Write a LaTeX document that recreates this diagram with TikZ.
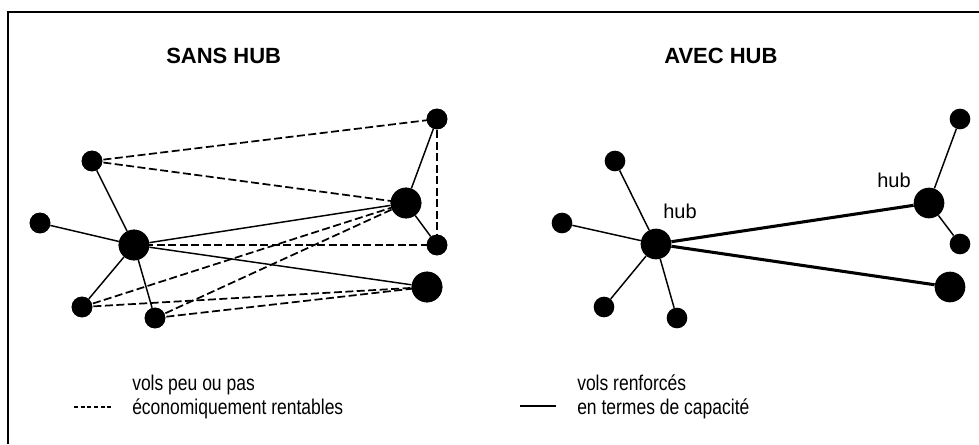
\documentclass[tikz,border=0pt]{standalone}
\usepackage{fontspec}
\setmainfont{Liberation Sans}
\newfontfamily\narrowfont[FakeStretch=0.82]{Liberation Sans}
\begin{document}
\begin{tikzpicture}[x=0.75pt,y=-0.75pt,
  sm/.style={circle,fill=black,inner sep=0pt,minimum size=15.5pt},
  bg/.style={circle,fill=black,inner sep=0pt,minimum size=23pt},
  thin/.style={line width=1.1pt},
  thick/.style={line width=2.3pt},
  dsh/.style={line width=1.3pt,dash pattern=on 6pt off 2.6pt},
  ttl/.style={font=\fontsize{16.5pt}{19pt}\selectfont\bfseries,anchor=base west,inner sep=0pt},
  lbl/.style={font=\fontsize{15pt}{18pt}\selectfont,anchor=base west,inner sep=0pt},
  leg/.style={font=\narrowfont\fontsize{16pt}{18pt}\selectfont,anchor=base west,inner sep=0pt,align=left}]
\useasboundingbox (0,0) rectangle (979,444);
\draw[line width=1.6pt] (8,444) -- (8,12) -- (979,12);

% titles
\node[ttl] (t1) at (166,63) {SANS HUB};
\node[ttl] (t2) at (664,63) {AVEC HUB};

% left panel
\node[sm] (A) at (92,161) {};
\node[sm] (B) at (40,223) {};
\node[bg] (C) at (134,245) {};
\node[sm] (D) at (82,307) {};
\node[sm] (E) at (155,318) {};
\node[sm] (F) at (437,119) {};
\node[bg] (G) at (406,203) {};
\node[sm] (H) at (437,245) {};
\node[bg] (I) at (427,287) {};

\foreach \u/\v in {A/C,B/C,C/D,C/E,C/G,C/I,F/G,G/H}
  \draw[thin] (\u) -- (\v);
\foreach \u/\v in {A/F,A/G,F/H,C/H,D/G,E/G,D/I,E/I}
  \draw[dsh] (\u.center) -- (\v.center);

% redraw nodes on top
\foreach \n in {A,B,D,E,F,H}
  \fill (\n.center) circle (7.75pt);
\foreach \n in {C,G,I}
  \fill (\n.center) circle (11.5pt);

% right panel
\node[bg] (h1) at (656,244) {};
\node[sm] (a) at (615,161) {};
\node[sm] (b) at (562,223) {};
\node[sm] (d) at (604,307) {};
\node[sm] (e) at (677,318) {};
\node[bg] (h2) at (929,203) {};
\node[sm] (f) at (960,119) {};
\node[sm] (h) at (960,244) {};
\node[bg] (i) at (950,287) {};

\foreach \v in {a,b,d,e}
  \draw[thin] (h1) -- (\v);
\draw[thin] (h2) -- (f);
\draw[thin] (h2) -- (h);
\draw[thick] (h1) -- (h2);
\draw[thick] (h1) -- (i);

\node[lbl] (l1) at (663,218) {hub};
\node[lbl] (l2) at (877,187) {hub};

% legend
\coordinate (ld1) at (74,407);
\coordinate (ld2) at (111,407);
\draw[line width=0.8pt,dash pattern=on 3pt off 2pt] (ld1) -- (ld2);
\node[leg] (lt1) at (132,414) {vols peu ou pas\\économiquement rentables};
\coordinate (ls1) at (520,406);
\coordinate (ls2) at (556,406);
\draw[line width=1.6pt] (ls1) -- (ls2);
\node[leg] (lt2) at (577,414) {vols renforcés\\en termes de capacité};
\end{tikzpicture}
\end{document}
